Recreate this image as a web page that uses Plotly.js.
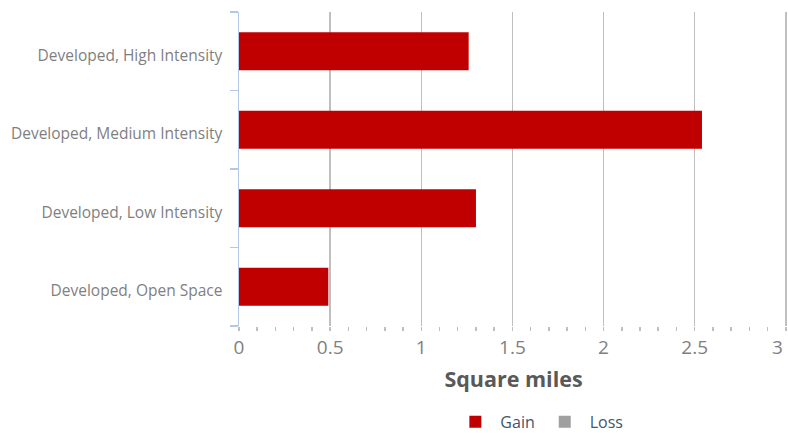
<!DOCTYPE html>
<html>
<head>
<meta charset="utf-8">
<script src="https://cdn.plot.ly/plotly-3.0.1.min.js"></script>
<style>html,body{margin:0;padding:0;background:#fff;}#chart{width:788px;height:433px;}</style>
</head>
<body>
<div id="chart"></div>
<script>
const categories = ["Developed, Open Space", "Developed, Low Intensity", "Developed, Medium Intensity", "Developed, High Intensity"];
const gainValues = [0.49, 1.30, 2.54, 1.26];
const lossValues = [0, 0, 0, 0];
const xTickVals = [0, 0.5, 1, 1.5, 2, 2.5, 3];
const xTickText = ["0", "0.5", "1", "1.5", "2", "2.5", "3"];

const traces = [
  {type: "bar", orientation: "h", name: "Gain", y: categories, x: gainValues,
   marker: {color: "#c00000"}, hoverinfo: "x+y"},
  {type: "bar", orientation: "h", name: "Loss", y: categories, x: lossValues,
   marker: {color: "#a0a0a0"}, hoverinfo: "x+y"}
];

// last tick label sits inside the chart edge (as in the reference), placed via the x axis
const lastIdx = xTickVals.length - 1;
const shownTickText = xTickText.map((t, i) => i === lastIdx ? "" : t);

const layout = {
  width: 788, height: 433,
  margin: {l: 239, r: 0, t: 12, b: 107, autoexpand: false},
  paper_bgcolor: "#ffffff", plot_bgcolor: "#ffffff",
  font: {family: "'Open Sans', sans-serif", color: "#7f7f7f"},
  barmode: "relative",
  bargap: 0.515,
  showlegend: true,
  xaxis: {
    range: [0, 3.012], tickvals: xTickVals, ticktext: shownTickText,
    showgrid: true, gridcolor: "#bfbfbf", gridwidth: 1.5,
    zeroline: false, showline: false,
    ticks: "outside", ticklen: 4, tickcolor: "#bfbfbf", tickwidth: 1.5,
    minor: {dtick: 0.1, ticks: "outside", ticklen: 4, tickcolor: "#bfbfbf", tickwidth: 1.5, showgrid: false},
    tickfont: {size: 19, color: "#7f7f7f"},
    title: {text: "Square miles", font: {size: 21.5, color: "#595959", family: "'Open Sans', sans-serif", weight: "bold"}, standoff: 13},
    fixedrange: true
  },
  yaxis: {
    type: "category", categoryorder: "array", categoryarray: categories,
    showgrid: false, zeroline: false,
    showline: true, linecolor: "#b4c7e7", linewidth: 1.5,
    ticks: "outside", tickson: "boundaries", ticklen: 8, tickcolor: "#b4c7e7", tickwidth: 1.5,
    tickfont: {size: 15.5, color: "#7f7f7f"},
    ticklabelstandoff: 12,
    ticklabelshift: 4,
    fixedrange: true
  },
  annotations: [{
    x: xTickVals[lastIdx], xref: "x", xanchor: "right", xshift: -1,
    y: -0.067, yref: "paper", yanchor: "middle",
    text: xTickText[lastIdx], showarrow: false,
    font: {size: 19, color: "#7f7f7f", family: "'Open Sans', sans-serif"}
  }],
  legend: {
    orientation: "h", x: 0.385, xanchor: "left", y: -0.305, yanchor: "middle",
    font: {size: 16, color: "#44546a"}, traceorder: "normal",
    itemwidth: 40
  }
};

Plotly.newPlot("chart", traces, layout, {displayModeBar: false, staticPlot: true});
</script>
</body>
</html>
